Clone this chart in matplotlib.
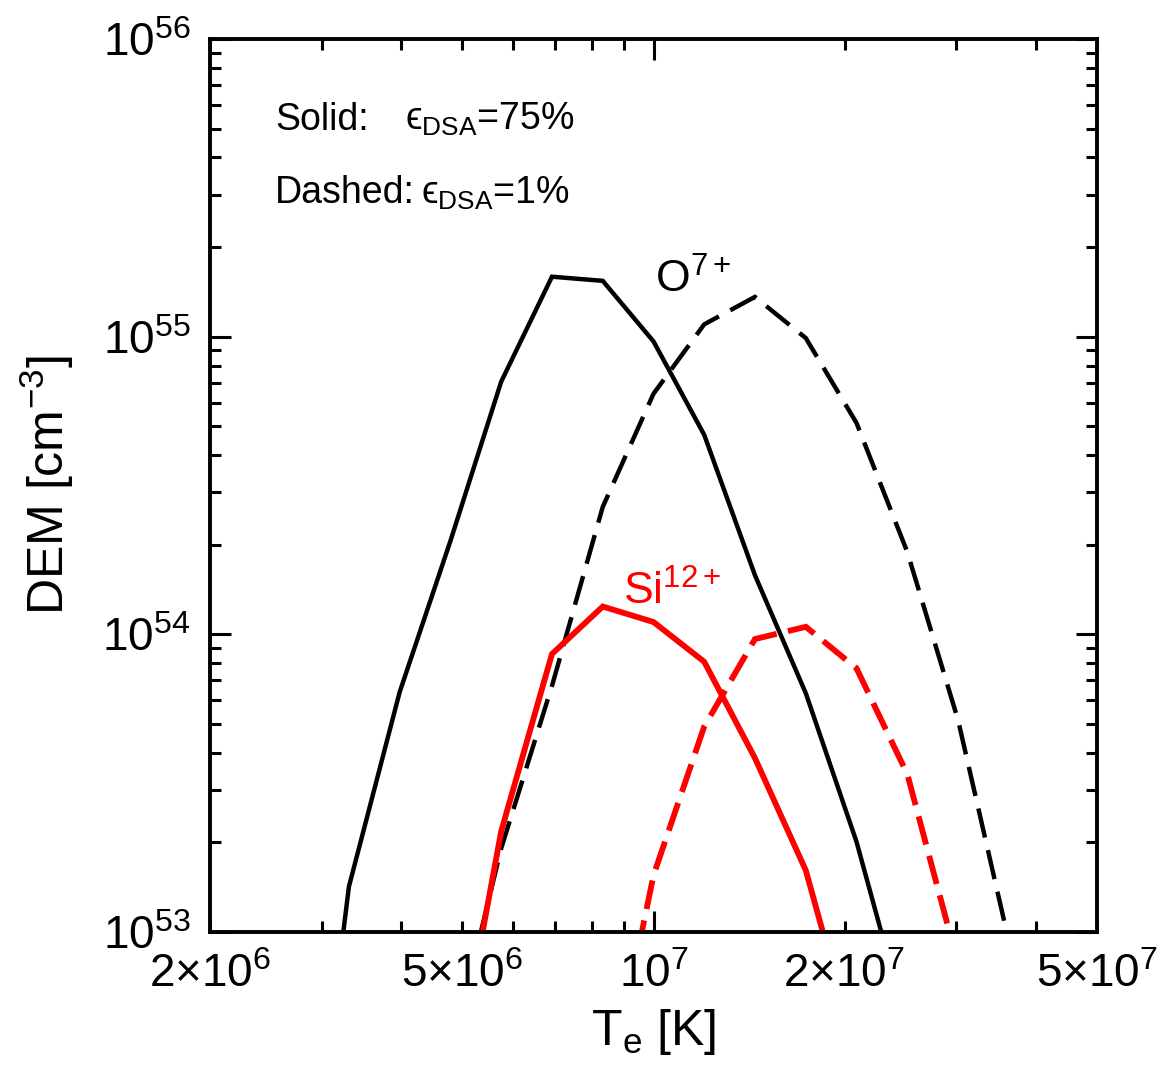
import matplotlib
matplotlib.use("Agg")
import matplotlib.pyplot as plt
from matplotlib import ticker
import numpy as np

plt.rcParams['font.family'] = ['Liberation Sans', 'DejaVu Sans']
plt.rcParams['mathtext.fontset'] = 'custom'
plt.rcParams['mathtext.rm'] = 'Liberation Sans'
plt.rcParams['mathtext.it'] = 'Liberation Sans:italic'
plt.rcParams['mathtext.bf'] = 'Liberation Sans:bold'
plt.rcParams['mathtext.sf'] = 'Liberation Sans'

# ---- data (electron temperature grid in K, DEM in cm^-3) ----
T_o7_solid = [2.754e6, 3.311e6, 3.981e6, 4.786e6, 5.754e6, 6.918e6, 8.318e6,
              1.000e7, 1.202e7, 1.445e7, 1.738e7, 2.089e7, 2.512e7]
dem_o7_solid = [5.9e51, 1.42e53, 6.40e53, 2.06e54, 7.06e54, 1.59e55, 1.54e55,
                9.64e54, 4.68e54, 1.58e54, 6.34e53, 2.01e53, 4.8e52]

T_o7_dashed = [4.786e6, 5.754e6, 6.918e6, 8.318e6, 1.000e7, 1.202e7, 1.445e7,
               1.738e7, 2.089e7, 2.512e7, 3.020e7, 3.631e7]
dem_o7_dashed = [3.8e52, 1.91e53, 6.71e53, 2.68e54, 6.43e54, 1.10e55, 1.36e55,
                 9.89e54, 5.13e54, 1.89e54, 5.15e53, 9.3e52]

T_si12_solid = [4.786e6, 5.754e6, 6.918e6, 8.318e6, 1.000e7, 1.202e7, 1.445e7,
                1.738e7, 2.089e7]
dem_si12_solid = [2.6e52, 2.18e53, 8.59e53, 1.24e54, 1.10e54, 8.09e53, 3.84e53,
                  1.61e53, 3.9e52]

T_si12_dashed = [8.318e6, 1.000e7, 1.202e7, 1.445e7, 1.738e7, 2.089e7, 2.512e7,
                 3.020e7]
dem_si12_dashed = [2.3e52, 1.55e53, 4.90e53, 9.64e53, 1.06e54, 7.69e53, 3.39e53,
                   7.8e52]

y_major = [1e53, 1e54, 1e55, 1e56]
y_major_labels = [r'$10^{53}$', r'$10^{54}$', r'$10^{55}$', r'$10^{56}$']
x_label_pos = [2e6, 5e6, 1e7, 2e7, 5e7]
x_label_txt = [r'$2{\times}10^{6}$', r'$5{\times}10^{6}$', r'$10^{7}$',
               r'$2{\times}10^{7}$', r'$5{\times}10^{7}$']
x_minor = [3e6, 4e6, 6e6, 7e6, 8e6, 9e6, 3e7, 4e7]
x_long_tick = 1e7

# ---- figure ----
fig = plt.figure(figsize=(11.76, 10.68), dpi=100)
ax = fig.add_axes([210/1176, 1-932/1068, 887/1176, 893/1068])

black_lw = 3.2
red_lw = 4.2
ax.plot(T_o7_solid, dem_o7_solid, color='black', lw=black_lw,
        solid_joinstyle='miter')
ax.plot(T_o7_dashed, dem_o7_dashed, color='black', lw=black_lw,
        linestyle=(0, (6.7, 2.9)), dash_capstyle='butt', dash_joinstyle='miter')
ax.plot(T_si12_solid, dem_si12_solid, color='#ff0000', lw=red_lw,
        solid_joinstyle='miter')
ax.plot(T_si12_dashed, dem_si12_dashed, color='#ff0000', lw=red_lw,
        linestyle=(0, (5.0, 2.0)), dash_capstyle='butt', dash_joinstyle='miter')

ax.set_xscale('log')
ax.set_yscale('log')
ax.set_xlim(2e6, 5e7)
ax.set_ylim(1e53, 1e56)

ax.set_yticks(y_major)
ax.set_yticklabels(y_major_labels)
ax.yaxis.set_minor_locator(ticker.LogLocator(base=10, subs=np.arange(2, 10)))
ax.yaxis.set_minor_formatter(ticker.NullFormatter())

ax.set_xticks(x_label_pos)
ax.set_xticklabels(x_label_txt)
ax.xaxis.set_minor_locator(ticker.FixedLocator(x_minor))
ax.xaxis.set_minor_formatter(ticker.NullFormatter())

ax.tick_params(which='both', direction='in', top=True, right=True,
               width=2.2, color='black', labelsize=33)
ax.tick_params(axis='y', which='major', length=15, pad=14)
ax.tick_params(axis='y', which='minor', length=8)
ax.tick_params(axis='x', which='major', length=8, pad=15)
ax.tick_params(axis='x', which='minor', length=8)

# the decade tick on the x axis is drawn long
for t, loc in zip(ax.xaxis.get_major_ticks(), x_label_pos):
    if loc == x_long_tick:
        t.tick1line.set_markersize(15)
        t.tick2line.set_markersize(15)

for s in ax.spines.values():
    s.set_linewidth(2.8)

ax.set_xlabel(r'$\mathregular{T_e}$ [K]', fontsize=36)
ax.xaxis.set_label_coords(0.5, -0.084)
ax.set_ylabel(r'DEM [cm$^{-3}$]', fontsize=36)
ax.yaxis.set_label_coords(-0.151, 0.5)

# annotations
ax.text(0.0733, 0.898, 'Solid:', transform=ax.transAxes, fontsize=27,
        ha='left', va='baseline')
ax.text(0.2198, 0.898, r'ϵ$_\mathregular{DSA}$=75%', transform=ax.transAxes,
        fontsize=27, ha='left', va='baseline')
ax.text(0.0733, 0.816, 'Dashed:', transform=ax.transAxes, fontsize=27,
        ha='left', va='baseline')
ax.text(0.2380, 0.816, r'ϵ$_\mathregular{DSA}$=1%', transform=ax.transAxes,
        fontsize=27, ha='left', va='baseline')

ax.text(0.5017, 0.7156, r'O$^{7+}$', transform=ax.transAxes, fontsize=32,
        ha='left', va='baseline', color='black')
ax.text(0.4656, 0.3662, r'Si$^{12+}$', transform=ax.transAxes, fontsize=32,
        ha='left', va='baseline', color='#ff0000')

fig.savefig('out.png', dpi=100)
